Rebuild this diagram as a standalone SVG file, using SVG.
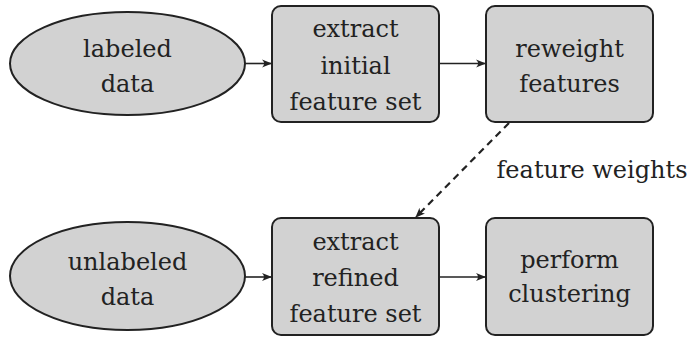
<svg xmlns="http://www.w3.org/2000/svg" width="692" height="337" viewBox="0 0 692 337">
<style>
.n{fill:#d2d2d2;stroke:#222;stroke-width:2}
.c{fill:none;stroke:#222;stroke-width:1.6}
.d{stroke-dasharray:7,5;stroke-width:2.2}
</style>
<defs>
<marker id="ah" viewBox="0 0 10 10" refX="9" refY="5" markerWidth="10" markerHeight="10" markerUnits="userSpaceOnUse" orient="auto">
<path d="M0,1 Q4,5 0,9 L10,5 Z" fill="#222"/>
</marker>
</defs>
<rect width="692" height="337" fill="#fff"/>
<g font-family="DejaVu Serif, serif" font-size="24" fill="#222" text-anchor="middle">
<g id="labeled">
<ellipse class="n" cx="127.5" cy="63.5" rx="117.5" ry="51.5"/>
<text x="127.5" y="57">labeled</text>
<text x="127.5" y="92">data</text>
</g>
<g id="extract-initial">
<rect class="n" x="272" y="6" width="167" height="116" rx="9"/>
<text x="355.5" y="37">extract</text>
<text x="355.5" y="74">initial</text>
<text x="355.5" y="110">feature set</text>
</g>
<g id="reweight">
<rect class="n" x="486" y="6" width="167" height="116" rx="9"/>
<text x="569.5" y="57">reweight</text>
<text x="569.5" y="92">features</text>
</g>
<g id="unlabeled">
<ellipse class="n" cx="127.5" cy="276" rx="117.5" ry="54"/>
<text x="127.5" y="270">unlabeled</text>
<text x="127.5" y="305">data</text>
</g>
<g id="extract-refined">
<rect class="n" x="272" y="218" width="167" height="117" rx="9"/>
<text x="355.5" y="250">extract</text>
<text x="355.5" y="286">refined</text>
<text x="355.5" y="322">feature set</text>
</g>
<g id="cluster">
<rect class="n" x="486" y="218" width="167" height="117" rx="9"/>
<text x="569.5" y="268">perform</text>
<text x="569.5" y="302">clustering</text>
</g>
<g id="connectors">
<line class="c" x1="245" y1="63.5" x2="271" y2="63.5" marker-end="url(#ah)"/>
<line class="c" x1="439" y1="63.5" x2="485" y2="63.5" marker-end="url(#ah)"/>
<line class="c" x1="245" y1="277" x2="271" y2="277" marker-end="url(#ah)"/>
<line class="c" x1="439" y1="277" x2="485" y2="277" marker-end="url(#ah)"/>
<line class="c d" x1="509" y1="123" x2="416" y2="217" marker-end="url(#ah)"/>
<text x="592" y="178">feature weights</text>
</g>
</g>
</svg>
